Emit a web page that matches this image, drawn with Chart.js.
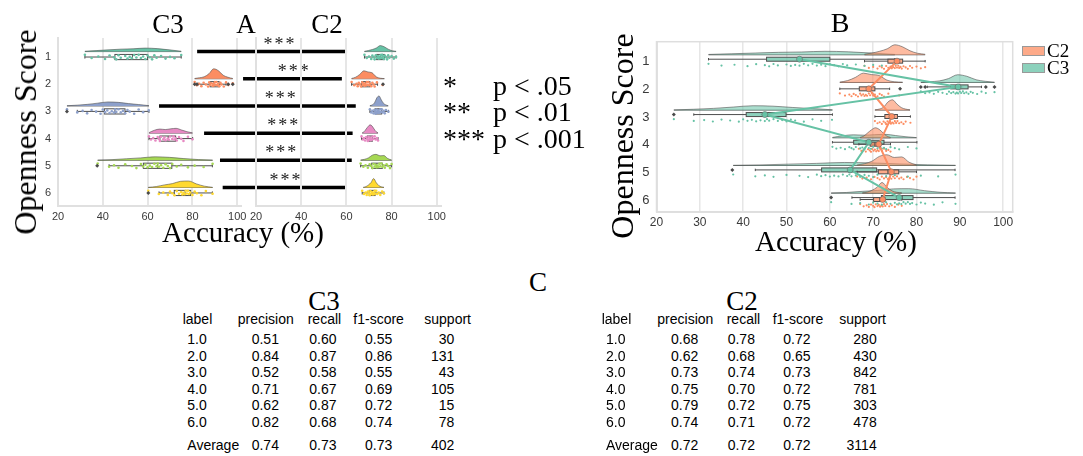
<!DOCTYPE html>
<html>
<head>
<meta charset="utf-8">
<script src="https://cdn.jsdelivr.net/npm/chart.js@4.4.1/dist/chart.umd.min.js"></script>
<style>
  body { margin: 0; width: 1083px; height: 456px; background: #fff; position: relative; overflow: hidden; }
  canvas { position: absolute; }
  .t { position: absolute; line-height: 1; white-space: nowrap; color: #000; }
</style>
</head>
<body>
<canvas id="a3" width="460" height="260" style="left:0;top:0"></canvas>
<canvas id="a2" width="220" height="260" style="left:240px;top:0"></canvas>
<canvas id="b" width="483" height="260" style="left:600px;top:0"></canvas>

<script>
// ========
// Data
// ========
const rows = ["1", "2", "3", "4", "5", "6"];          // openness score
const groups = ["C2", "C3"];

// box stats per score: [low whisker, q1, median, q3, high whisker]
const c3Box = [[32, 45.4, 53.2, 60, 75], [82.5, 87.9, 89.6, 91.9, 95], [28.6, 40.7, 45.4, 49.9, 60.6],
               [60.6, 65.5, 69.2, 72.5, 80.1], [42.8, 58.1, 64.5, 70.8, 88.9], [65.1, 71.9, 76.7, 79.2, 88.9]];
const c2Box = [[68, 73.4, 75.2, 76.8, 82], [62.3, 66.8, 68.5, 70.4, 73.8], [70.4, 72.7, 74, 75.6, 78.6],
               [66.7, 69.3, 70.4, 71.5, 74], [66.3, 71.2, 73.4, 75.9, 80], [67, 70.1, 71.5, 72.7, 76.6]];
const c3Outliers = [[], [81, 82, 96, 98], [24], [], [37.5], [60.3]];
const c2Outliers = [[], [76.2], [], [], [], []];

// violin extent and density shape (peak = 1, evenly spaced over the extent)
const c3Range = [[32, 75], [81, 98], [24, 60.6], [60.6, 80], [37.7, 89], [60.3, 89]];
const c2Range = [[68, 82], [62.3, 76.8], [70.4, 78.5], [67, 74], [66.3, 80], [67.5, 76.6]];
const c3Density = [
  [0.1, 0.3, 0.5, 0.7, 0.8, 1, 0.85, 0.5, 0.1],
  [0.03, 0.1, 0.2, 0.5, 1, 0.8, 0.35, 0.15, 0.03],
  [0.05, 0.2, 0.4, 0.7, 1, 0.9, 0.6, 0.35, 0.08],
  [0.1, 0.6, 0.85, 0.75, 0.9, 1, 0.65, 0.3, 0.06],
  [0.06, 0.2, 0.45, 0.7, 1, 0.85, 0.5, 0.22, 0.06],
  [0.03, 0.15, 0.4, 0.6, 0.95, 1, 0.55, 0.2, 0.03]
];
const c2Density = [
  [0.05, 0.18, 0.35, 0.6, 1, 0.8, 0.4, 0.15, 0.05],
  [0.04, 0.2, 0.55, 1, 0.85, 0.75, 0.25, 0.07, 0.03],
  [0.03, 0.1, 0.3, 0.8, 1, 0.6, 0.25, 0.1, 0.03],
  [0.04, 0.18, 0.5, 0.8, 1, 0.85, 0.5, 0.18, 0.04],
  [0.05, 0.17, 0.4, 0.85, 1, 0.75, 0.8, 0.3, 0.05],
  [0.03, 0.1, 0.28, 0.55, 1, 0.55, 0.22, 0.08, 0.03]
];
// violin peak heights in pixels, per panel
const peakA3 = [3.5, 10, 4, 4.8, 3.5, 6.5];
const peakA2 = [6, 8, 10, 8.3, 6, 9];
const peakB3 = [3.5, 7.7, 4.4, 3.5, 3, 4.5];
const peakB2 = [10, 9.3, 10.3, 10, 10.7, 10.7];

// individual accuracies (strip dots)
const c3Points = [
  [32, 35, 38, 41, 43, 45, 46, 47, 48, 50, 51, 52, 53, 54, 55, 56, 57, 58, 59, 60, 61, 62, 63, 64, 66, 68, 70, 72, 75],
  [81, 82, 83, 84, 85, 86, 87, 87.5, 88, 88.5, 89, 89.3, 89.6, 90, 90.3, 90.7, 91, 91.5, 92, 92.5, 93, 94, 95, 96, 98],
  [24, 28.6, 31, 33, 35, 37, 39, 40, 41, 42, 43, 44, 45, 45.5, 46, 47, 48, 49, 50, 51, 52, 54, 56, 58, 60.5],
  [60.6, 61.5, 62.5, 63.5, 64.5, 65, 65.5, 66, 67, 67.5, 68, 69, 69.5, 70, 71, 71.5, 72, 72.5, 73, 74, 75, 76, 78, 80],
  [37.7, 42.8, 45, 47, 50, 53, 55, 57, 58, 59, 60, 61, 62, 63, 64, 64.5, 65, 66, 67, 68, 69, 70, 71, 73, 75, 78, 81, 85, 89],
  [60.3, 65, 67, 69, 70, 71, 72, 73, 74, 75, 75.5, 76, 76.5, 77, 77.5, 78, 78.5, 79, 80, 81, 82, 84, 86, 89]
];
const c2Points = [
  [68, 69, 70, 71, 71.5, 72, 72.5, 73, 73.5, 74, 74.3, 74.6, 75, 75.2, 75.5, 75.8, 76, 76.3, 76.6, 77, 77.5, 78, 78.5, 79, 80, 81, 82],
  [62.3, 63.5, 64.5, 65, 65.5, 66, 66.5, 67, 67.3, 67.7, 68, 68.3, 68.6, 69, 69.3, 69.7, 70, 70.4, 71, 71.5, 72, 72.5, 73.5, 76],
  [70.4, 71, 71.5, 72, 72.4, 72.8, 73, 73.3, 73.6, 73.9, 74.1, 74.4, 74.7, 75, 75.3, 75.6, 76, 76.5, 77, 77.5, 78.6],
  [66.7, 67.3, 67.8, 68.3, 68.8, 69.2, 69.5, 69.8, 70.1, 70.4, 70.7, 71, 71.3, 71.6, 72, 72.5, 73, 73.5, 74],
  [66.3, 67.5, 68.5, 69.5, 70.3, 71, 71.5, 72, 72.5, 73, 73.4, 73.8, 74.2, 74.6, 75, 75.5, 76, 76.5, 77, 77.8, 78.5, 79.3, 80],
  [67, 67.8, 68.5, 69, 69.5, 70, 70.3, 70.6, 71, 71.3, 71.6, 71.9, 72.2, 72.5, 72.8, 73.2, 73.7, 74.3, 75, 75.8, 76.6]
];

// means per score (panel B point plot)
const c2Mean = [75.5, 69, 74.3, 71.3, 74.2, 72.2];
const c3Mean = [53, 89.6, 45, 69, 64.7, 76];

// significance bars of panel A, in C3-axis units (they run across into the C2 panel)
const sigFrom = [82.1, 102.6, 65.1, 85.2, 92.3, 93.5];
const sigTo = [149, 146.7, 152.9, 151.5, 151.1, 148.4];
const sigStarAt = [119.1, 125.4, 119.6, 120.8, 119.9, 121.8];
const sigLabel = ["***", "***", "***", "***", "***", "***"];
const pStars = ["*", "**", "***"];
const pText = ["p < .05", "p < .01", "p < .001"];

// classification report tables
const tableHead = ["label", "precision", "recall", "f1-score", "support"];
const tableLabels = ["1.0", "2.0", "3.0", "4.0", "5.0", "6.0"];
const c3Precision = [0.51, 0.84, 0.52, 0.71, 0.62, 0.82];
const c3Recall = [0.60, 0.87, 0.58, 0.67, 0.87, 0.68];
const c3F1 = [0.55, 0.86, 0.55, 0.69, 0.72, 0.74];
const c3Support = [30, 131, 43, 105, 15, 78];
const c3Average = [0.74, 0.73, 0.73, 402];
const c2Precision = [0.68, 0.62, 0.73, 0.75, 0.79, 0.74];
const c2Recall = [0.78, 0.68, 0.74, 0.70, 0.72, 0.71];
const c2F1 = [0.72, 0.65, 0.73, 0.72, 0.75, 0.72];
const c2Support = [280, 430, 842, 781, 303, 478];
const c2Average = [0.72, 0.72, 0.72, 3114];

// ========
// Styles
// ========
const SERIF = '"Liberation Serif", "Times New Roman", serif';
const SANS = '"Liberation Sans", Arial, sans-serif';
const set2 = ["#66c2a5", "#fc8d62", "#8da0cb", "#e78ac3", "#a6d854", "#ffd92f"];
const ORANGE = "#fc8d62", GREEN = "#66c2a5";
const jitter = [-0.9, 0.4, -0.2, 0.8, -0.6, 0.1, 0.95, -0.75, 0.3, -0.4, 0.65, -0.05, 0.5, -0.85, 0.2];
const ROW_PX_A = 27.2, ROW_PX_B = 27.66;

function rgba(hex, a) {
  const n = parseInt(hex.slice(1), 16);
  return `rgba(${n >> 16},${(n >> 8) & 255},${n & 255},${a})`;
}

// ── dataset builders ──
function violinSet(range, dens, peakPx, base, rowPx, fill) {
  const [lo, hi] = range, n = dens.length;
  return {
    type: "line", order: 10,
    data: dens.map((d, i) => ({ x: lo + (hi - lo) * i / (n - 1), y: base - d * peakPx / rowPx })),
    fill: { value: base }, backgroundColor: fill,
    borderColor: "rgba(80,80,80,0.75)", borderWidth: 0.8,
    pointRadius: 0, cubicInterpolationMode: "monotone"
  };
}
function stripSet(values, y, spread, color, r) {
  return {
    type: "line", showLine: false, order: 5,
    data: values.map((v, i) => ({ x: v, y: y + jitter[i % jitter.length] * spread })),
    pointRadius: r, pointBackgroundColor: color, pointBorderWidth: 0
  };
}
function outlierSet(values, y) {
  return {
    type: "line", showLine: false, order: 4,
    data: values.map(v => ({ x: v, y: y })),
    pointStyle: "rectRot", pointRadius: 2, pointBackgroundColor: "#4a4a4a", pointBorderWidth: 0
  };
}

// ── plugins ──
// boxes + flat side of each half violin, drawn beneath the datasets
const boxPlugin = {
  id: "boxes",
  beforeDatasetsDraw(chart, _a, opts) {
    const { ctx, scales: { x, y } } = chart;
    const line = (x1, y1, x2, y2) => { ctx.beginPath(); ctx.moveTo(x1, y1); ctx.lineTo(x2, y2); ctx.stroke(); };
    ctx.save();
    opts.items.forEach(b => {
      ctx.strokeStyle = "rgba(70,70,70,0.8)";
      ctx.lineWidth = 1;
      const by = y.getPixelForValue(b.base);
      line(x.getPixelForValue(b.range[0]), by, x.getPixelForValue(b.range[1]), by);

      const [lo, q1, md, q3, hi] = b.stats.map(v => x.getPixelForValue(v));
      const cy = y.getPixelForValue(b.y), h = b.half;
      ctx.strokeStyle = "#4d4d4d";
      line(lo, cy, q1, cy);
      line(q3, cy, hi, cy);
      line(lo, cy - h * 0.6, lo, cy + h * 0.6);
      line(hi, cy - h * 0.6, hi, cy + h * 0.6);
      ctx.fillStyle = b.fill;
      ctx.fillRect(q1, cy - h, q3 - q1, 2 * h);
      ctx.strokeRect(q1, cy - h, q3 - q1, 2 * h);
      line(md, cy - h, md, cy + h);
    });
    ctx.restore();
  }
};

// significance bars (panel A)
const sigPlugin = {
  id: "sig",
  afterDraw(chart) {
    const { ctx, scales: { x, y } } = chart;
    ctx.save();
    ctx.strokeStyle = "#000";
    ctx.lineWidth = 3.5;
    ctx.fillStyle = "#222";
    ctx.font = `18px ${SERIF}`;
    ctx.letterSpacing = "2px";
    ctx.textAlign = "center";
    ctx.textBaseline = "alphabetic";
    rows.forEach((r, i) => {
      const py = y.getPixelForValue(i + 1 - 0.2);
      ctx.beginPath();
      ctx.moveTo(x.getPixelForValue(sigFrom[i]), py);
      ctx.lineTo(x.getPixelForValue(sigTo[i]), py);
      ctx.stroke();
      ctx.fillText(sigLabel[i], x.getPixelForValue(sigStarAt[i]), py - 2);
    });
    ctx.restore();
  }
};

// full frame round panel B
const framePlugin = {
  id: "frame",
  afterDraw(chart) {
    const { ctx, chartArea: a } = chart;
    ctx.save();
    ctx.strokeStyle = "#dedede";
    ctx.lineWidth = 1.5;
    ctx.strokeRect(a.left, a.top, a.right - a.left, a.bottom - a.top);
    ctx.restore();
  }
};

// ── shared axis options ──
function xAxis(max, step, size, gridW) {
  return {
    type: "linear", min: 20, max: max,
    ticks: { stepSize: step, includeBounds: false, autoSkip: false, maxRotation: 0,
             font: { family: SANS, size: size }, color: "#3a3a3a", padding: 4 },
    grid: { color: "#e6e6e6", lineWidth: gridW, drawTicks: false },
    border: { display: true, color: "#e0e0e0", width: 2 },
    afterFit: s => { s.height = 22; }
  };
}
function yAxis(min, max, showTicks, size, w) {
  return {
    type: "linear", min: min, max: max, reverse: true,
    afterBuildTicks: s => { s.ticks = rows.map((r, i) => ({ value: i + 1 })); },
    ticks: { display: showTicks, callback: v => rows[v - 1], font: { family: SANS, size: size },
             color: "#3a3a3a", padding: 7 },
    grid: { display: false, drawTicks: false },
    border: { display: true, color: "#e0e0e0", width: 2 },
    afterFit: s => { s.width = w; }
  };
}
function baseOptions(pad) {
  return {
    responsive: false, animation: false, devicePixelRatio: 1, events: [],
    layout: { padding: pad },
    plugins: { legend: { display: false }, tooltip: { enabled: false } }
  };
}

// ============
// Panel A
// ============
function panelA(id, box, outl, range, dens, peaks, pts, xMax, pad, showY, extra) {
  const datasets = [];
  const items = [];
  rows.forEach((r, i) => {
    const row = i + 1, base = row - 0.2;
    datasets.push(violinSet(range[i], dens[i], peaks[i], base, ROW_PX_A, set2[i]));
    datasets.push(stripSet(pts[i], row, 0.09, set2[i], 1.3));
    datasets.push(outlierSet(outl[i], row));
    items.push({ y: row, stats: box[i], half: 2.6, fill: "rgba(255,255,255,0.2)", base: base, range: range[i] });
  });
  const options = baseOptions(pad);
  options.scales = { x: xAxis(xMax, 20, 11, 2), y: yAxis(0.3, 6.48, showY, 11, showY ? 30 : 0) };
  options.plugins.boxes = { items: items };
  return new Chart(document.getElementById(id), {
    type: "line", data: { datasets: datasets }, options: options,
    plugins: [boxPlugin].concat(extra)
  });
}

panelA("a3", c3Box, c3Outliers, c3Range, c3Density, peakA3, c3Points, 101.5,
       { left: 28, right: 219.4, top: 38, bottom: 32 }, true, [sigPlugin]);
panelA("a2", c2Box, c2Outliers, c2Range, c2Density, peakA2, c2Points, 102,
       { left: 16, right: 18.7, top: 38, bottom: 32 }, false, []);

// ============
// Panel B
// ============
(function panelB() {
  const datasets = [];
  const items = [];
  const B3 = -0.09, B2 = -0.02;       // dodge of the two boxes inside a row
  rows.forEach((r, i) => {
    const row = i + 1, base = row - 0.25;
    datasets.push(violinSet(c2Range[i], c2Density[i], peakB2[i], base, ROW_PX_B, rgba(ORANGE, 0.6)));
    datasets.push(violinSet(c3Range[i], c3Density[i], peakB3[i], base, ROW_PX_B, rgba(GREEN, 0.55)));
    datasets.push(stripSet(c3Points[i], row + 0.12, 0.05, GREEN, 1.1));
    datasets.push(stripSet(c2Points[i], row + 0.2, 0.06, ORANGE, 1.1));
    datasets.push(outlierSet(c3Outliers[i], row + B3));
    datasets.push(outlierSet(c2Outliers[i], row + B2));
    items.push({ y: row + B3, stats: c3Box[i], half: 2, fill: rgba(GREEN, 0.75), base: base, range: c3Range[i] });
    items.push({ y: row + B2, stats: c2Box[i], half: 2, fill: rgba(ORANGE, 0.75), base: base, range: c2Range[i] });
  });
  // mean point plots on top
  [[c3Mean, GREEN, B3], [c2Mean, ORANGE, B2]].forEach(([m, col, off]) => {
    datasets.push({
      type: "line", order: 0, data: m.map((v, i) => ({ x: v, y: i + 1 + off })),
      borderColor: col, borderWidth: 2, tension: 0, fill: false,
      pointRadius: 3, pointBackgroundColor: col, pointBorderColor: "#666", pointBorderWidth: 0.6
    });
  });
  const options = baseOptions({ left: 30.5, right: 70.3, top: 41.7, bottom: 26.3 });
  options.scales = { x: xAxis(102.2, 10, 12, 1.5), y: yAxis(0.277, 6.42, true, 13, 26) };
  options.plugins.boxes = { items: items };
  new Chart(document.getElementById("b"), {
    type: "line", data: { datasets: datasets }, options: options, plugins: [boxPlugin, framePlugin]
  });
})();

// ============
// Text
// ============
function put(text, x, y, size, family, align, rotate) {
  const d = document.createElement("div");
  d.className = "t";
  d.textContent = text;
  d.style.left = x + "px";
  d.style.top = y + "px";
  d.style.fontSize = size + "px";
  d.style.fontFamily = family;
  const tx = align === "left" ? "0" : align === "right" ? "-100%" : "-50%";
  d.style.transform = `translate(${tx},-50%)` + (rotate ? " rotate(-90deg)" : "");
  document.body.appendChild(d);
  return d;
}

// panel titles and axis titles
put(groups[1], 168, 24, 27, SERIF, "center");
put("A", 246, 24, 27, SERIF, "center");
put(groups[0], 327, 24, 27, SERIF, "center");
put("B", 840, 23, 28, SERIF, "center");
put("C", 538, 282, 27, SERIF, "center");
put("Openness Score", 25, 132, 32, SERIF, "center", true);
put("Openness Score", 622, 136, 32, SERIF, "center", true);
put("Accuracy (%)", 243, 232, 29, SERIF, "center");
put("Accuracy (%)", 836, 241, 29, SERIF, "center");

// p-value key
pStars.forEach((s, i) => {
  const y = [85.5, 112.2, 138.9][i];
  put(s, 443, y, 28, SERIF, "left");
  put(pText[i], 493, y, 28, SERIF, "left");
});

// legend of panel B
groups.forEach((g, i) => {
  const y = 50 + i * 16.7;
  const p = document.createElement("div");
  p.style.cssText = `position:absolute;left:1022px;top:${y - 4}px;width:21px;height:8px;` +
    `background:${rgba(i === 0 ? ORANGE : GREEN, 0.75)};border:0.5px solid #999`;
  document.body.appendChild(p);
  put(g, 1047, y, 19, SERIF, "left");
});

// classification tables
function table(title, cx, headX, valX, prec, rec, f1, sup, avg) {
  put(title, cx, 301, 27, SERIF, "center");
  tableHead.forEach((h, j) => put(h, headX[j], 319.3, 14, SANS, "left"));
  const ys = tableLabels.map((l, i) => 339.3 + i * 16.45);
  tableLabels.forEach((l, i) => {
    put(l, valX[0], ys[i], 14, SANS, "left");
    put(prec[i].toFixed(2), valX[1], ys[i], 14, SANS, "left");
    put(rec[i].toFixed(2), valX[2], ys[i], 14, SANS, "left");
    put(f1[i].toFixed(2), valX[3], ys[i], 14, SANS, "left");
    put(String(sup[i]), valX[4], ys[i], 14, SANS, "right");
  });
  put("Average", valX[0], 445, 14, SANS, "left");
  put(avg[0].toFixed(2), valX[1], 445, 14, SANS, "left");
  put(avg[1].toFixed(2), valX[2], 445, 14, SANS, "left");
  put(avg[2].toFixed(2), valX[3], 445, 14, SANS, "left");
  put(String(avg[3]), valX[4], 445, 14, SANS, "right");
}
table(groups[1], 324, [182.7, 237.7, 307.7, 353.3, 424.3], [187.3, 251.7, 309.3, 365, 454.3],
      c3Precision, c3Recall, c3F1, c3Support, c3Average);
table(groups[0], 742, [601.7, 657.3, 726.7, 772.7, 839.3], [606, 671, 727.7, 783.3, 876.7],
      c2Precision, c2Recall, c2F1, c2Support, c2Average);
</script>
</body>
</html>
